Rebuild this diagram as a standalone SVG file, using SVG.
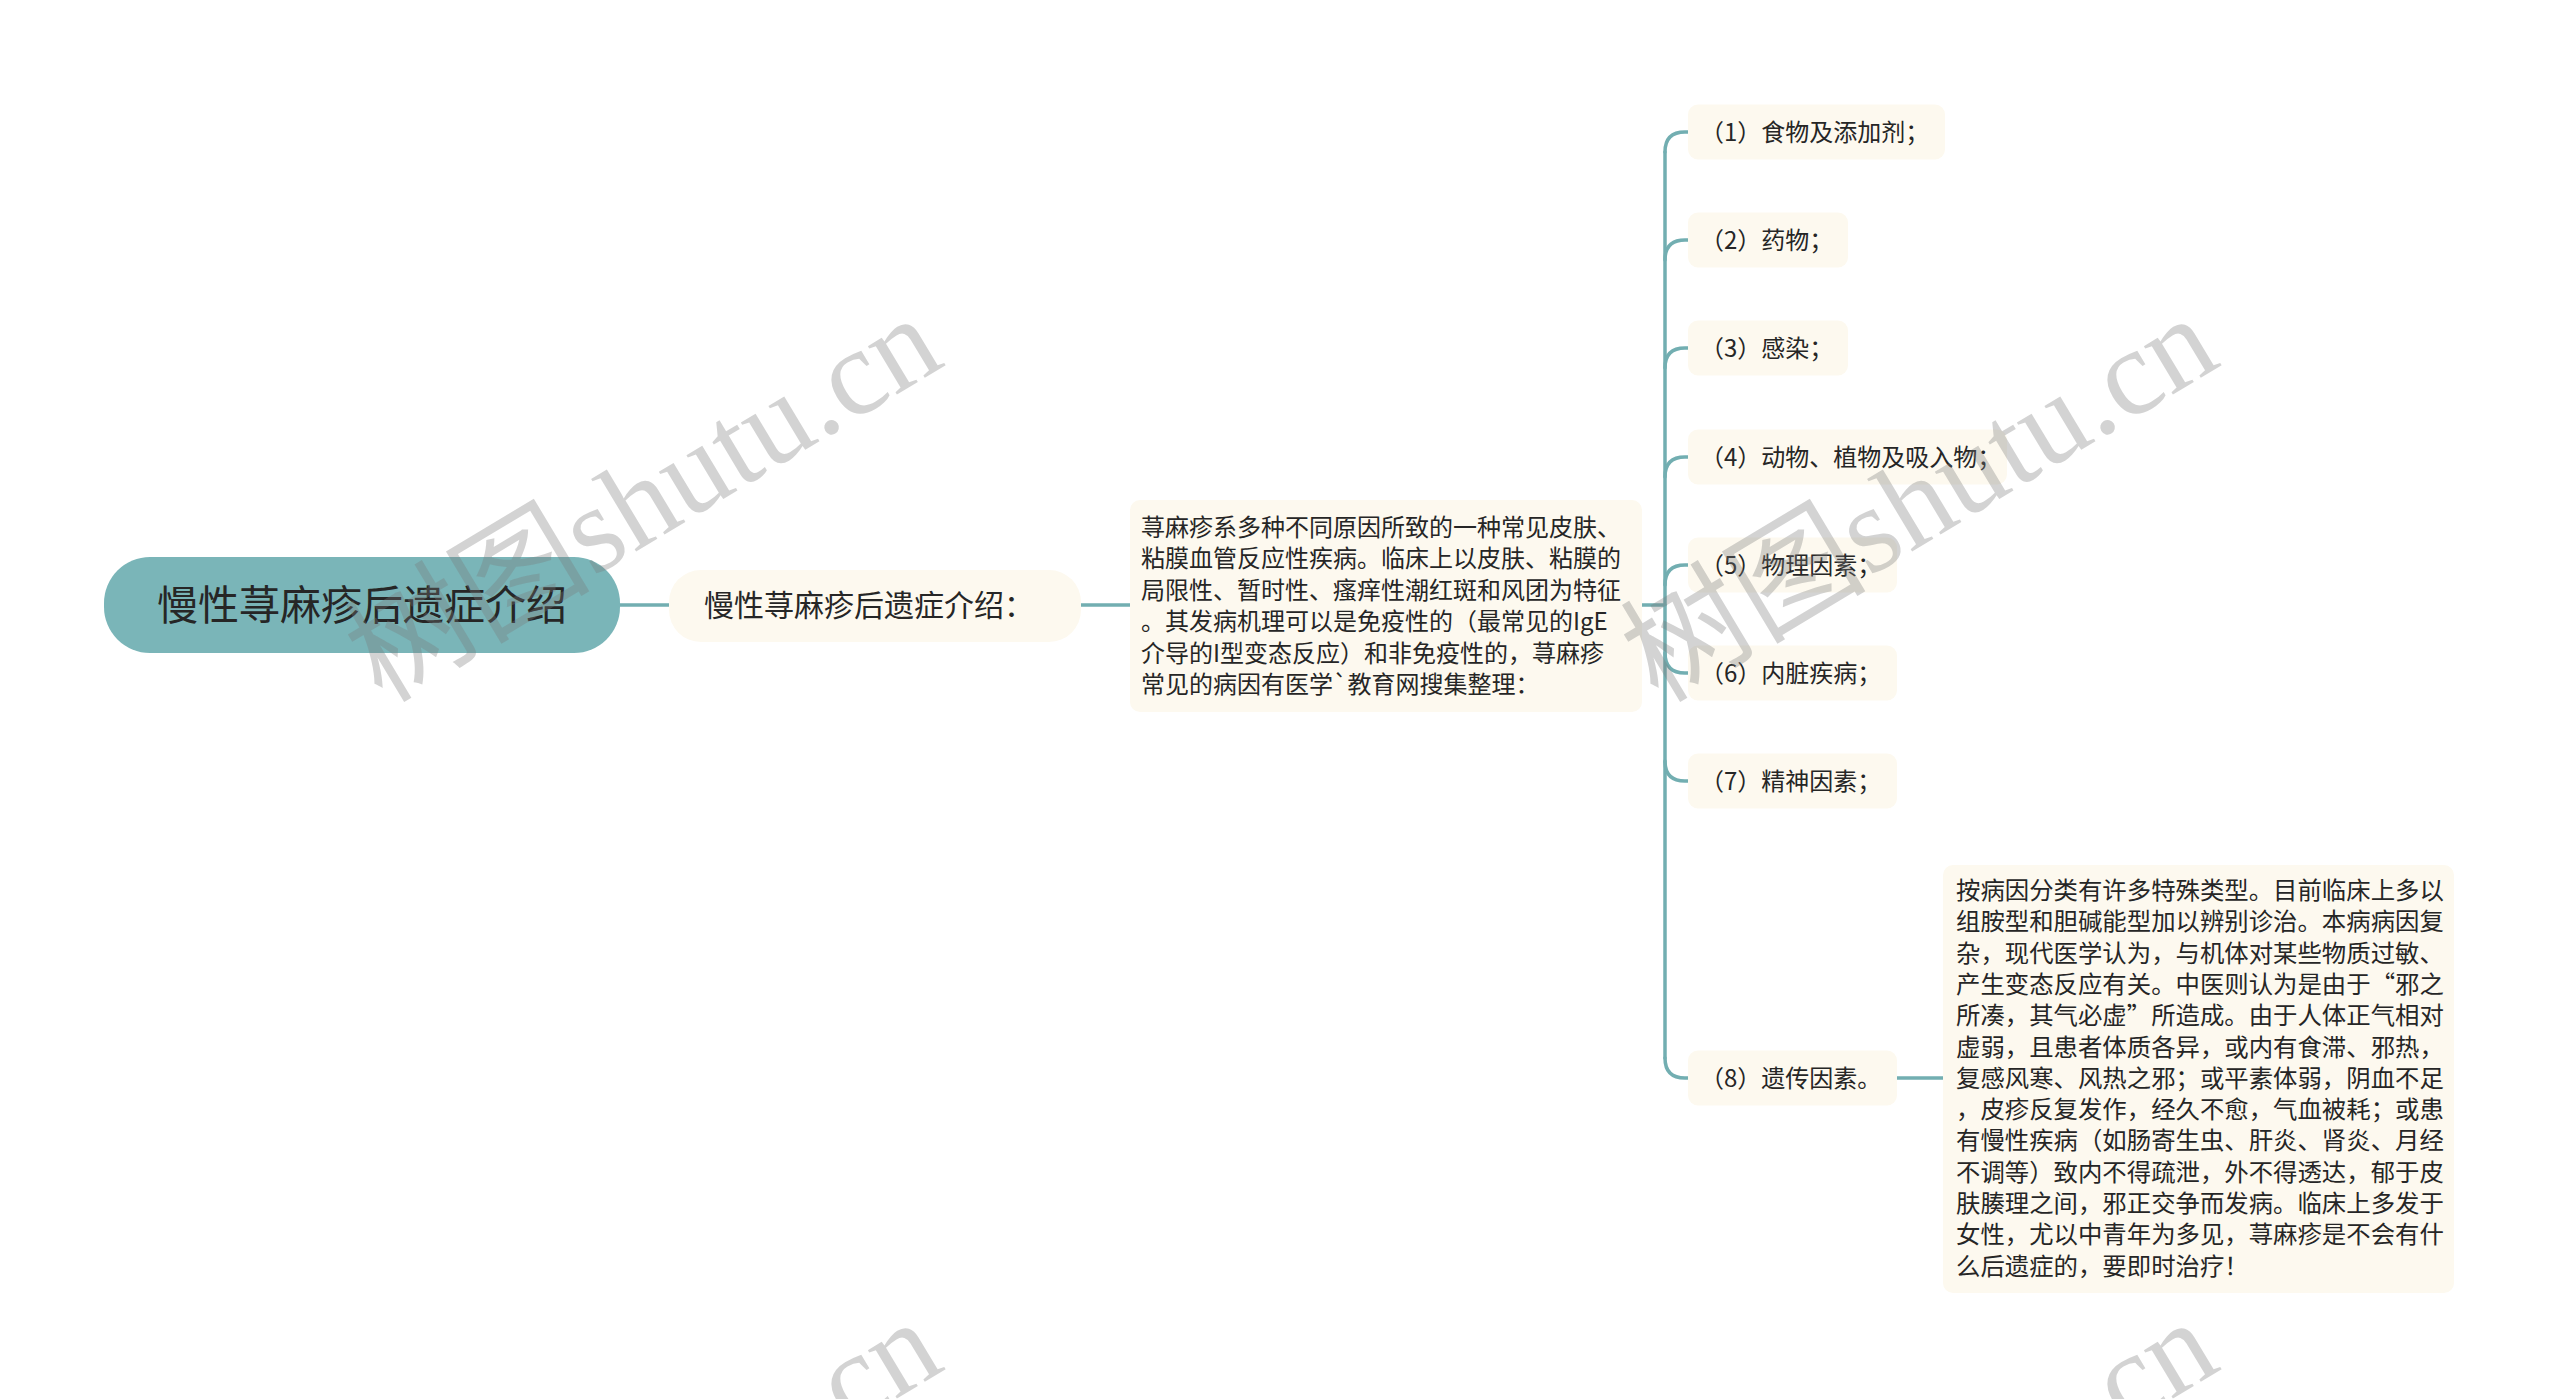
<svg xmlns="http://www.w3.org/2000/svg" width="2560" height="1399" viewBox="0 0 2560 1399">
<style>
  .t { font-family: "Noto Sans CJK SC", "Noto Sans", sans-serif; fill: #262626; }
  .root { fill: #7ab5b8; }
  .box { fill: #fdf9ef; }
  .conn { fill: none; stroke: #72aeb1; stroke-width: 3.5; stroke-linecap: round; }
  .wm { fill: #787878; fill-opacity: 0.33; font-size: 123px; }
  .wmc { font-family: "Noto Sans CJK SC", sans-serif; }
  .wml { font-family: "Liberation Serif", serif; }
</style>
<rect width="2560" height="1399" fill="#ffffff"/>

<g id="connectors">
  <path class="conn" d="M620 605 H669"/>
  <path class="conn" d="M1081 605 H1130"/>
  <path class="conn" d="M1642 605 H1665"/>
  <path class="conn" d="M1665 152 V1058"/>
  <path class="conn" d="M1665 152 Q1665 132 1685 132 H1688"/>
  <path class="conn" d="M1665 260 Q1665 240 1685 240 H1688"/>
  <path class="conn" d="M1665 368 Q1665 348 1685 348 H1688"/>
  <path class="conn" d="M1665 477 Q1665 457 1685 457 H1688"/>
  <path class="conn" d="M1665 585 Q1665 565 1685 565 H1688"/>
  <path class="conn" d="M1665 653 Q1665 673 1685 673 H1688"/>
  <path class="conn" d="M1665 761 Q1665 781 1685 781 H1688"/>
  <path class="conn" d="M1665 1058 Q1665 1078 1685 1078 H1688"/>
  <path class="conn" d="M1897 1078 H1943"/>
</g>

<g id="root">
  <rect class="root" x="104" y="557" width="516" height="96" rx="46"/>
  <text class="t" x="362" y="620" font-size="41" text-anchor="middle">慢性荨麻疹后遗症介绍</text>
</g>

<g id="n-intro">
  <rect class="box" x="669" y="570" width="412" height="72" rx="32"/>
  <text class="t" x="704" y="616" font-size="30">慢性荨麻疹后遗症介绍：</text>
</g>

<g id="n-desc">
  <rect class="box" x="1130" y="500" width="512" height="212" rx="10"/>
  <text class="t" font-size="24">
    <tspan x="1141" y="536">荨麻疹系多种不同原因所致的一种常见皮肤、</tspan>
    <tspan x="1141" y="567.4">粘膜血管反应性疾病。临床上以皮肤、粘膜的</tspan>
    <tspan x="1141" y="598.8">局限性、暂时性、瘙痒性潮红斑和风团为特征</tspan>
    <tspan x="1141" y="630.2">。其发病机理可以是免疫性的（最常见的IgE</tspan>
    <tspan x="1141" y="661.6">介导的I型变态反应）和非免疫性的，荨麻疹</tspan>
    <tspan x="1141" y="693">常见的病因有医学`教育网搜集整理：</tspan>
  </text>
</g>

<g id="c1">
  <rect class="box" x="1688" y="104.5" width="257" height="55" rx="10"/>
  <text class="t" x="1700" y="141" font-size="24">（1）食物及添加剂；</text>
</g>
<g id="c2">
  <rect class="box" x="1688" y="212.5" width="160" height="55" rx="10"/>
  <text class="t" x="1700" y="249" font-size="24">（2）药物；</text>
</g>
<g id="c3">
  <rect class="box" x="1688" y="320.5" width="160" height="55" rx="10"/>
  <text class="t" x="1700" y="357" font-size="24">（3）感染；</text>
</g>
<g id="c4">
  <rect class="box" x="1688" y="429.5" width="319" height="55" rx="10"/>
  <text class="t" x="1700" y="466" font-size="24">（4）动物、植物及吸入物；</text>
</g>
<g id="c5">
  <rect class="box" x="1688" y="537.5" width="209" height="55" rx="10"/>
  <text class="t" x="1700" y="574" font-size="24">（5）物理因素；</text>
</g>
<g id="c6">
  <rect class="box" x="1688" y="645.5" width="209" height="55" rx="10"/>
  <text class="t" x="1700" y="682" font-size="24">（6）内脏疾病；</text>
</g>
<g id="c7">
  <rect class="box" x="1688" y="753.5" width="209" height="55" rx="10"/>
  <text class="t" x="1700" y="790" font-size="24">（7）精神因素；</text>
</g>
<g id="c8">
  <rect class="box" x="1688" y="1050.5" width="209" height="55" rx="10"/>
  <text class="t" x="1700" y="1087" font-size="24">（8）遗传因素。</text>
</g>

<g id="c8-detail">
  <rect class="box" x="1943" y="865" width="511" height="428" rx="10"/>
  <text class="t" font-size="24.4">
    <tspan x="1956" y="899">按病因分类有许多特殊类型。目前临床上多以</tspan>
    <tspan x="1956" y="930.3">组胺型和胆碱能型加以辨别诊治。本病病因复</tspan>
    <tspan x="1956" y="961.6">杂，现代医学认为，与机体对某些物质过敏、</tspan>
    <tspan x="1956" y="992.9">产生变态反应有关。中医则认为是由于“邪之</tspan>
    <tspan x="1956" y="1024.2">所凑，其气必虚”所造成。由于人体正气相对</tspan>
    <tspan x="1956" y="1055.5">虚弱，且患者体质各异，或内有食滞、邪热，</tspan>
    <tspan x="1956" y="1086.8">复感风寒、风热之邪；或平素体弱，阴血不足</tspan>
    <tspan x="1956" y="1118.1">，皮疹反复发作，经久不愈，气血被耗；或患</tspan>
    <tspan x="1956" y="1149.4">有慢性疾病（如肠寄生虫、肝炎、肾炎、月经</tspan>
    <tspan x="1956" y="1180.7">不调等）致内不得疏泄，外不得透达，郁于皮</tspan>
    <tspan x="1956" y="1212">肤腠理之间，邪正交争而发病。临床上多发于</tspan>
    <tspan x="1956" y="1243.3">女性，尤以中青年为多见，荨麻疹是不会有什</tspan>
    <tspan x="1956" y="1274.6">么后遗症的，要即时治疗！</tspan>
  </text>
</g>

<g id="watermarks" class="wm">
  <text transform="translate(382 704) rotate(-31)"><tspan class="wmc">树图</tspan><tspan class="wml">shutu.cn</tspan></text>
  <text transform="translate(1658 704) rotate(-31)"><tspan class="wmc">树图</tspan><tspan class="wml">shutu.cn</tspan></text>
  <text transform="translate(382 1708) rotate(-31)"><tspan class="wmc">树图</tspan><tspan class="wml">shutu.cn</tspan></text>
  <text transform="translate(1658 1708) rotate(-31)"><tspan class="wmc">树图</tspan><tspan class="wml">shutu.cn</tspan></text>
</g>
</svg>
